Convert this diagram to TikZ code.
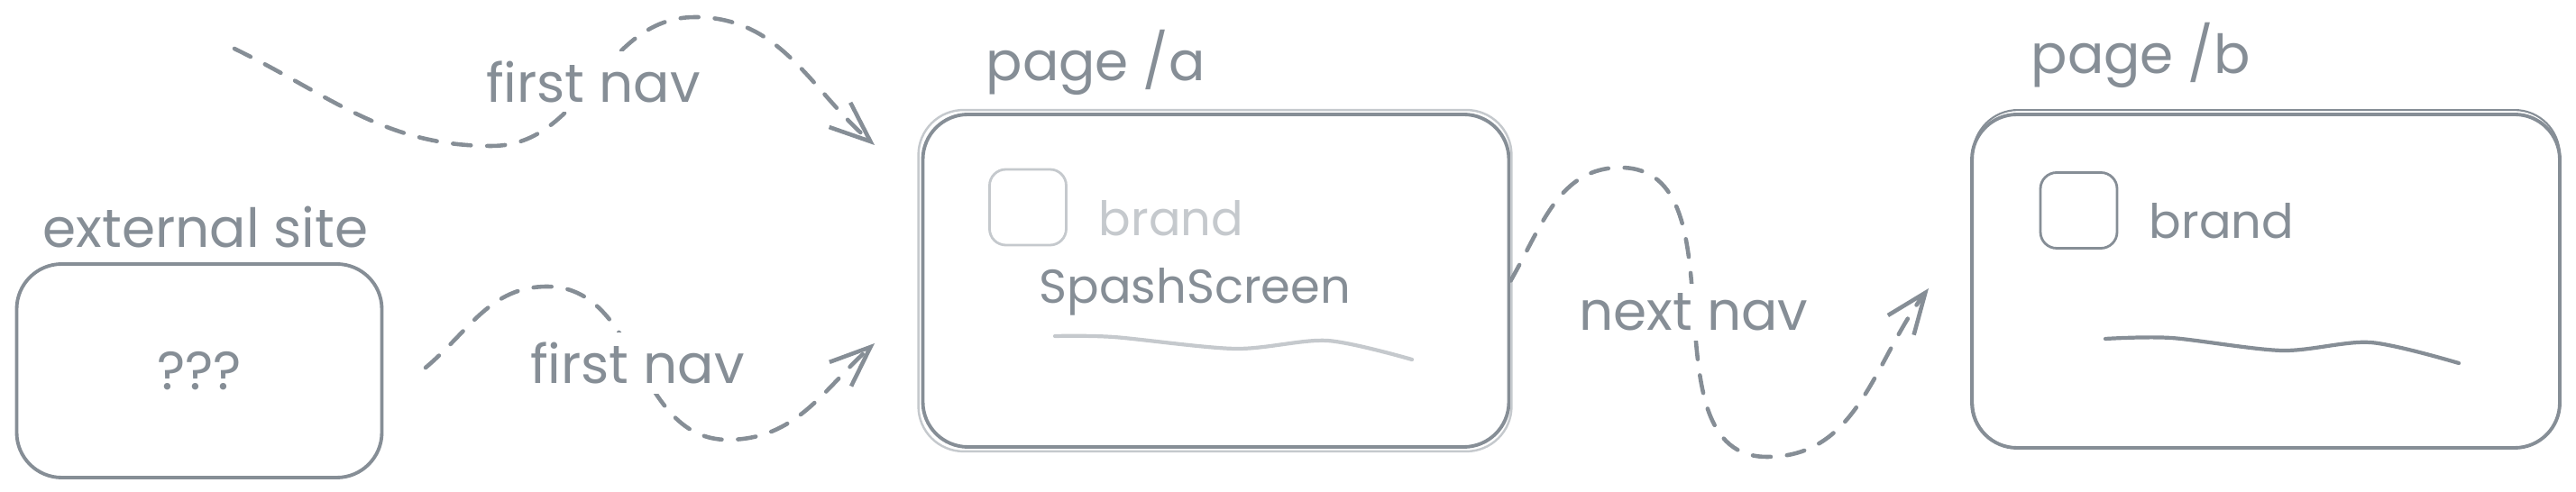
\documentclass[tikz,border=0pt]{standalone}
\usepackage{fontspec}
\setmainfont{Poppins}
\usetikzlibrary{positioning,arrows.meta,calc}
\definecolor{ink}{HTML}{868E96}
\definecolor{faint}{HTML}{C5C9CD}

\begin{document}
\begin{tikzpicture}[every node/.style={font=\fontsize{17}{20}\selectfont,text=ink},
  card/.style={draw=ink,line width=1.1pt,rounded corners=0.5cm,minimum width=6.5cm,minimum height=3.69cm},
  logo/.style={draw=ink,line width=0.8pt,rounded corners=0.18cm,minimum width=0.85cm,minimum height=0.84cm},
  caption/.style={anchor=base west,inner sep=0pt},
  inner/.style={caption,font=\fontsize{15}{18}\selectfont},
  nav/.style={ink,line width=1.3pt,line cap=round,dash pattern=on 0.2cm off 0.18cm,-{Straight Barb[length=0.45cm,width=0.36cm]}},
  navlabel/.style={fill=white,inner sep=3pt},
  squiggle/.style={line width=1.2pt,line cap=round}]
\useasboundingbox (0,0) rectangle (28.57,5.46);
% boxes
\node[card,minimum width=4.05cm,minimum height=2.37cm] (ext) at (2.21,1.345) {???};
\node[caption] (extcap) at (0.47,2.71) {external site};
\node[card] (pagea) at (13.485,2.345) {};
\draw[faint,line width=0.7pt,rounded corners=0.5cm] ($(pagea.north west)+(-0.03,0.03)$) rectangle ($(pagea.south east)+(0.01,-0.03)$);
\node[caption] (pageacap) at (10.93,4.56) {page /a};
\node[logo,draw=faint] (logoa) at (11.40,3.16) {};
\node[inner,text=faint] (branda) at (12.18,2.84) {brand};
\node[inner] (splash) at (11.52,2.09) {SpashScreen};
\draw[squiggle,faint] plot[smooth] coordinates {(11.70,1.73) (12.35,1.72) (13.70,1.59) (14.72,1.68) (15.66,1.47)};
\node[card,minimum width=6.52cm,minimum height=3.70cm] (pageb) at (25.13,2.34) {};
\draw[ink,line width=0.6pt,rounded corners=0.5cm] ($(pageb.north west)+(0.03,0.03)$) rectangle ($(pageb.south east)+(-0.02,0.02)$);
\node[caption] (pagebcap) at (22.52,4.64) {page /b};
\node[logo] (logob) at (23.055,3.125) {};
\node[inner] (brandb) at (23.83,2.81) {brand};
\draw[squiggle,ink] plot[smooth] coordinates {(23.35,1.70) (24.08,1.71) (25.31,1.57) (26.29,1.66) (27.27,1.43)};
% navigations
\coordinate (src1) at (2.60,4.92); \coordinate (hit1) at (9.70,3.85);
\coordinate (src2) at (4.72,1.38); \coordinate (hit2) at (9.70,1.65);
\coordinate (hit3) at (21.39,2.26);
\draw[nav] (src1) to[out=-26,in=180] (5.45,3.84) to[out=0,in=180] node[navlabel] (nav1) {first nav} (7.71,5.27) to[out=0,in=139] (hit1);
\draw[nav] (src2) to[out=40,in=180] (6.07,2.28) to[out=0,in=180] node[navlabel] (nav2) {first nav} (8.07,0.58) to[out=0,in=-138] (hit2);
\draw[nav] (pagea.east) to[out=60,in=180] (17.97,3.60) to[out=0,in=180] node[navlabel] (nav3) {next nav} (19.60,0.39) to[out=0,in=-127] (hit3);
\end{tikzpicture}
\end{document}
